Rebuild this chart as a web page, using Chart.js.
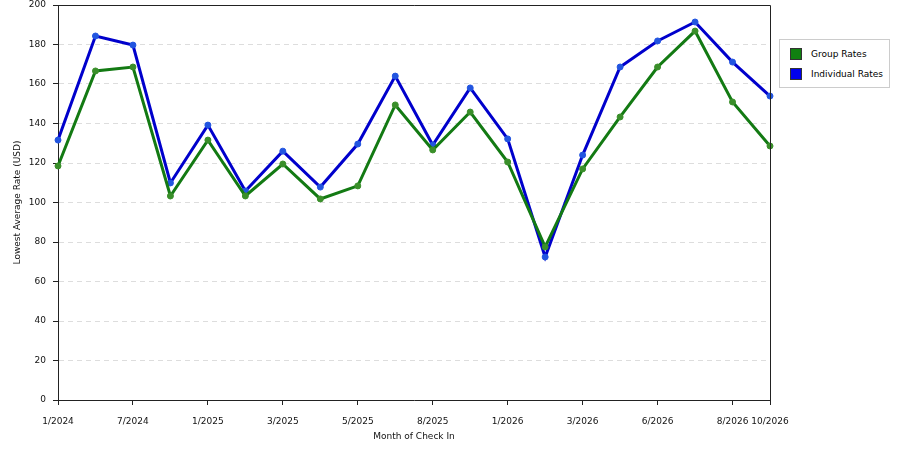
<!DOCTYPE html>
<html>
<head>
<meta charset="utf-8">
<script src="https://cdn.jsdelivr.net/npm/chart.js@4"></script>
<style>
  html, body { margin: 0; padding: 0; background: #fff; }
  #wrap { position: relative; width: 900px; height: 450px; }
  #legend {
    position: absolute; left: 779px; top: 39px; width: 109px; height: 47px;
    border: 1px solid #ccc; background: #fff;
    font-family: "DejaVu Sans", Verdana, sans-serif; font-size: 9px; color: #000;
  }
  .item { position: absolute; left: 10px; height: 12px; line-height: 12px; }
  .sw { display: inline-block; width: 12px; height: 12px; vertical-align: top; margin-right: 9px; box-sizing: border-box; border: 1px solid #333; }
</style>
</head>
<body>
<div id="wrap">
  <canvas id="rateChart" width="900" height="450"></canvas>
  <div id="legend">
    <div class="item" style="top:8px"><span class="sw" style="background:#108010"></span>Group Rates</div>
    <div class="item" style="top:28px"><span class="sw" style="background:#0000ee"></span>Individual Rates</div>
  </div>
</div>
<script>
const months = ['1/2024', '4/2024', '7/2024', '10/2024', '1/2025', '2/2025', '3/2025', '4/2025',
  '5/2025', '6/2025', '8/2025', '10/2025', '1/2026', '2/2026', '3/2026', '4/2026',
  '6/2026', '7/2026', '8/2026', '10/2026'];
const shownTicks = ['1/2024', '7/2024', '1/2025', '3/2025', '5/2025', '8/2025', '1/2026',
  '3/2026', '6/2026', '8/2026', '10/2026'];
const groupRates = [118.5, 166.6, 168.6, 103.3, 131.6, 103.3, 119.5, 101.8, 108.4, 149.4,
  126.6, 145.8, 120.5, 77.5, 117, 143.3, 168.6, 186.8, 150.9, 128.6];
const individualRates = [131.6, 184.3, 179.7, 109.9, 139.2, 105.8, 126, 107.8, 129.6, 164,
  129.1, 158, 132.2, 72.4, 124, 168.6, 181.8, 191.4, 171.1, 153.9];

const font = { family: '"DejaVu Sans", Verdana, sans-serif', size: 9 };

// frame along top and right of the plot
const framePlugin = {
  id: 'frame',
  afterDraw(c) {
    const a = c.chartArea, ctx = c.ctx;
    ctx.save();
    ctx.strokeStyle = '#222';
    ctx.lineWidth = 1;
    ctx.beginPath();
    ctx.moveTo(a.left, a.top + 0.5);
    ctx.lineTo(a.right + 0.5, a.top + 0.5);
    ctx.lineTo(a.right + 0.5, a.bottom);
    ctx.stroke();
    ctx.restore();
  }
};

function lineSet(label, data, color, pointColor) {
  return {
    label: label,
    data: data,
    borderColor: color,
    borderWidth: 3,
    backgroundColor: pointColor,
    pointBackgroundColor: pointColor,
    pointBorderColor: pointColor,
    pointRadius: 3,
    pointBorderWidth: 1,
    tension: 0,
    fill: false
  };
}

new Chart(document.getElementById('rateChart'), {
  type: 'line',
  data: {
    labels: months,
    datasets: [
      lineSet('Group Rates', groupRates, '#137a13', '#3a8f2a'),
      lineSet('Individual Rates', individualRates, '#0000cc', '#2255e0')
    ]
  },
  options: {
    responsive: false,
    animation: false,
    layout: { padding: { top: 5, right: 130, left: 0, bottom: 0 } },
    plugins: { legend: { display: false }, tooltip: { enabled: false } },
    scales: {
      x: {
        offset: false,
        afterFit: s => { s.height = 50; },
        grid: {
          drawOnChartArea: false,
          tickLength: 5,
          tickColor: c => shownTicks.includes(months[c.index]) ? '#222' : 'rgba(0,0,0,0)'
        },
        border: { color: '#222', width: 1 },
        ticks: {
          autoSkip: false,
          maxRotation: 0,
          padding: 11,
          color: '#111',
          font: font,
          callback: (v, i) => shownTicks.includes(months[i]) ? months[i] : ''
        },
        title: { display: true, text: 'Month of Check In', color: '#111', font: font, padding: { top: 4, bottom: 8 } }
      },
      y: {
        min: 0,
        max: 200,
        // tick padding would otherwise push the plot top down
        afterFit: s => { s.width = 58; s.paddingTop = 0; s.paddingBottom = 0; },
        grid: {
          color: '#dddddd',
          lineWidth: 1,
          tickLength: 5,
          tickColor: '#222',
          tickBorderDash: []
        },
        border: { color: '#222', width: 1, dash: [5, 4] },
        ticks: { stepSize: 20, color: '#111', font: font, padding: 7 },
        title: { display: true, text: 'Lowest Average Rate (USD)', color: '#111', font: font, padding: { top: 12, bottom: 4 } }
      }
    }
  },
  plugins: [framePlugin]
});
</script>
</body>
</html>
